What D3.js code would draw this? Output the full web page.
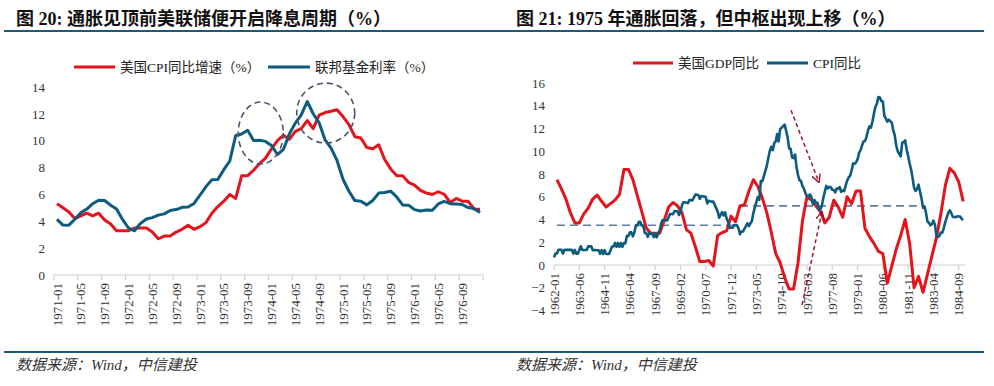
<!DOCTYPE html>
<html><head><meta charset="utf-8">
<script src="https://cdn.jsdelivr.net/npm/d3@7"></script>
<style>
body{margin:0;background:#fff;}
svg{display:block;}
</style></head>
<body>
<svg id="c" width="994" height="386"></svg>
<script>
// ---------- DATA ----------
// Left chart: monthly 1971-01 .. 1976-12
const leftStartYear = 1971;
const leftCpi = [
  5.3,5.0,4.7,4.2,4.4,4.6,4.4,4.6,4.1,3.8,3.3,3.3,
  3.3,3.5,3.5,3.5,3.2,2.7,2.9,2.9,3.2,3.4,3.7,3.4,
  3.6,3.9,4.6,5.1,5.5,6.0,5.7,7.4,7.4,7.8,8.3,8.7,
  9.4,10.0,10.4,10.1,10.7,10.9,11.5,10.9,11.9,12.1,12.2,12.3,
  11.8,11.2,10.3,10.2,9.5,9.4,9.7,8.6,7.9,7.4,7.4,6.9,
  6.7,6.3,6.1,6.0,6.2,6.0,5.4,5.7,5.5,5.5,4.9,4.9
];
const leftFed = [
  4.14,3.72,3.71,4.15,4.63,4.91,5.31,5.57,5.55,5.20,4.91,4.14,
  3.50,3.29,3.83,4.17,4.27,4.46,4.55,4.80,4.87,5.04,5.06,5.33,
  5.94,6.58,7.09,7.12,7.84,8.49,10.40,10.50,10.78,10.01,10.03,9.95,
  9.65,8.97,9.35,10.51,11.31,11.93,12.92,12.01,11.34,10.06,9.45,8.53,
  7.13,6.24,5.54,5.49,5.22,5.55,6.10,6.14,6.24,5.82,5.22,5.20,
  4.87,4.77,4.84,4.82,5.29,5.48,5.31,5.29,5.25,5.02,4.95,4.65
];
const leftTickLabels = ["1971-01","1971-05","1971-09","1972-01","1972-05","1972-09",
  "1973-01","1973-05","1973-09","1974-01","1974-05","1974-09",
  "1975-01","1975-05","1975-09","1976-01","1976-05","1976-09"];
const leftYTicks = [0,2,4,6,8,10,12,14];
const leftSeriesNames = ["美国CPI同比增速（%）","联邦基金利率（%）"];

// Right chart: monthly 1962-01 .. 1984-12
const rightStartYear = 1962;
const rightCpi = [
  0.67,1.01,1.01,1.34,1.34,1.34,1.00,1.34,1.33,1.33,1.33,1.33,
  1.33,1.00,1.33,0.99,0.99,1.32,1.65,1.32,1.32,1.32,1.32,1.64,
  1.64,1.64,1.31,1.31,1.31,1.30,1.30,0.98,1.30,0.97,1.30,0.97,
  0.97,0.97,1.29,1.62,1.62,1.94,1.61,1.94,1.61,1.93,1.61,1.92,
  1.92,2.56,2.56,2.87,2.87,2.53,2.85,3.48,3.48,3.79,3.79,3.46,
  3.46,2.81,2.80,2.48,2.79,2.78,2.77,2.45,2.75,2.44,2.74,3.04,
  3.65,3.95,3.94,3.93,3.92,4.20,4.49,4.48,4.46,4.75,4.73,4.72,
  4.40,4.68,5.25,5.52,5.51,5.48,5.44,5.71,5.70,5.67,5.93,6.20,
  6.18,6.15,5.82,6.06,6.04,6.01,5.98,5.41,5.65,5.60,5.57,5.57,
  5.29,5.00,4.71,4.16,4.40,4.64,4.36,4.62,4.08,3.80,3.28,3.27,
  3.27,3.51,3.50,3.49,3.23,2.71,2.95,2.94,3.19,3.42,3.67,3.41,
  3.65,3.87,4.59,5.06,5.53,5.98,5.73,7.38,7.36,7.80,8.25,8.71,
  9.39,10.02,10.39,10.09,10.71,10.86,11.51,10.86,11.95,12.06,12.20,12.34,
  11.80,11.23,10.25,10.21,9.47,9.39,9.72,8.60,7.91,7.44,7.38,6.94,
  6.72,6.29,6.07,6.05,6.20,5.97,5.35,5.71,5.49,5.46,4.88,4.86,
  5.22,5.91,6.44,6.95,6.73,6.87,6.83,6.62,6.60,6.39,6.72,6.70,
  6.84,6.43,6.55,6.50,6.97,7.41,7.70,7.84,8.31,8.93,8.89,9.02,
  9.28,9.86,10.09,10.49,10.85,10.89,11.26,11.82,12.18,12.07,12.61,13.29,
  13.91,14.18,14.76,14.73,14.41,14.38,13.13,12.87,12.60,12.77,12.65,12.52,
  11.83,11.41,10.49,10.00,9.78,9.55,10.76,10.80,10.95,10.14,9.59,8.92,
  8.39,7.62,6.78,6.51,6.68,7.06,6.44,5.85,5.04,5.15,4.59,3.83,
  3.71,3.49,3.60,3.90,3.55,2.58,2.46,2.56,2.86,2.85,3.27,3.79,
  4.19,4.60,4.80,4.56,4.23,4.22,4.20,4.29,4.27,4.26,4.05,3.95
];
// quarterly real GDP YoY, 1962Q1 .. 1984Q4 (plotted at quarter-end month)
const rightGdp = [
  7.5,6.7,5.8,4.6, 3.7,3.7,4.5,5.0, 5.8,6.15,5.6,5.1, 5.4,5.7,6.2,8.4,
  8.4,7.5,6.1,4.7, 3.25,2.8,2.8,2.8, 3.9,5.1,5.5,5.2, 4.6,3.1,2.8,1.6,
  0.3,0.3,0.4,-0.1, 2.6,2.85,3.0,4.3, 3.8,5.2,5.3,6.5, 7.5,6.9,5.9,4.6,
  2.9,1.0,0.2,-1.1, -2.1,-2.1,0.2,3.9, 6.0,5.7,5.2,4.7, 3.7,4.2,5.7,5.1,
  4.2,6.0,5.4,6.5, 6.5,3.2,2.5,1.9, 1.2,1.0,-1.6,-0.1, 1.4,2.6,4.0,1.9,
  -2.0,-1.0,-2.4,-0.8, 0.8,2.4,4.5,7.0, 8.5,8.1,7.3,5.6
];
const rightTickLabels = ["1962-01","1963-06","1964-11","1966-04","1967-09","1969-02",
  "1970-07","1971-12","1973-05","1974-10","1976-03","1977-08","1979-01","1980-06",
  "1981-11","1983-04","1984-09"];
const rightYTicks = [-4,-2,0,2,4,6,8,10,12,14,16];
const rightSeriesNames = ["美国GDP同比","CPI同比"];
// reference levels (value, start month index, end month index)
const rightLevels = [[3.5, 2, 122],[5.2, 125, 249]];

// ---------- STYLE ----------
const RED = "#e3141b", BLUE = "#0d5b7e", RULE = "#1d5a78";
const SERIF = "'Liberation Serif','Times New Roman','Noto Sans CJK SC',serif";
const svg = d3.select("#c");

// titles, rules, sources
const titles = [["图 20: 通胀见顶前美联储便开启降息周期（%）",16],["图 21: 1975 年通胀回落，但中枢出现上移（%）",516]];
titles.forEach(([t,x])=>{
  svg.append("text").attr("x",x).attr("y",25).attr("font-family",SERIF).attr("font-weight","bold")
    .attr("font-size",18).attr("fill","#111").text(t);
});
[[4,500],[500,984]].forEach(([a,b])=>{
  svg.append("line").attr("x1",a).attr("x2",b).attr("y1",31).attr("y2",31).attr("stroke",RULE).attr("stroke-width",2.2);
  svg.append("line").attr("x1",a).attr("x2",b).attr("y1",352).attr("y2",352).attr("stroke",RULE).attr("stroke-width",2.2);
});
[16,516].forEach(x=>{
  svg.append("text").attr("x",x).attr("y",370).attr("font-family",SERIF).attr("font-style","italic")
    .attr("font-size",15).attr("fill","#333").text("数据来源：Wind，中信建投");
});

function legendItem(g, x1, x2, y, color, label){
  g.append("line").attr("x1",x1).attr("x2",x2).attr("y1",y).attr("y2",y).attr("stroke",color).attr("stroke-width",3.2);
  g.append("text").attr("x",x2+5).attr("y",y).attr("dy","0.36em").attr("font-family",SERIF)
    .attr("font-size",13.5).attr("fill","#222").text(label);
}

// ---------- LEFT CHART ----------
{
  const g = svg.append("g");
  const n = leftCpi.length;
  const x = d3.scaleBand().domain(d3.range(n)).range([54,483]).padding(0);
  const y = d3.scaleLinear().domain([0,14]).range([275,87]);
  const cx = i => x(i) + x.bandwidth()/2;

  g.append("g").attr("transform","translate(54,0)")
    .call(d3.axisLeft(y).tickValues(leftYTicks).tickSize(0).tickPadding(9))
    .call(s=>s.select(".domain").remove())
    .call(s=>s.selectAll("text").attr("font-family",SERIF).attr("font-size",13).attr("fill","#333"));

  g.append("line").attr("x1",54).attr("x2",483).attr("y1",275).attr("y2",275).attr("stroke","#d0d0d0").attr("stroke-width",1.2);
  const tickIdx = d3.range(0, n+1, 4);
  g.selectAll(".lt").data(tickIdx).join("line")
    .attr("x1",i=> i<n ? x(i) : x(n-1)+x.bandwidth()).attr("x2",i=> i<n ? x(i) : x(n-1)+x.bandwidth())
    .attr("y1",275).attr("y2",280).attr("stroke","#d0d0d0").attr("stroke-width",1.2);
  g.selectAll(".ll").data(leftTickLabels).join("text")
    .attr("transform",(d,k)=>`translate(${cx(k*4)},283) rotate(-90)`)
    .attr("text-anchor","end").attr("dy","0.35em")
    .attr("font-family",SERIF).attr("font-size",13).attr("fill","#333").text(d=>d);

  const line = d3.line().x((d,i)=>cx(i)).y(d=>y(d));
  g.append("path").datum(leftCpi).attr("d",line).attr("fill","none").attr("stroke",RED).attr("stroke-width",3).attr("stroke-linejoin","round");
  g.append("path").datum(leftFed).attr("d",line).attr("fill","none").attr("stroke",BLUE).attr("stroke-width",3).attr("stroke-linejoin","round");

  [[34.2,10.57,22.5,31],[45.1,12.06,29,30]].forEach(([i,v,rx,ry])=>{
    g.append("ellipse").attr("cx",x(0)+ (i+0.5)*x.bandwidth()).attr("cy",y(v)).attr("rx",rx).attr("ry",ry)
      .attr("fill","none").attr("stroke","#46566e").attr("stroke-width",1.6).attr("stroke-dasharray","6,4");
  });

  legendItem(g,74,115,67,RED,leftSeriesNames[0]);
  legendItem(g,268,310,67,BLUE,leftSeriesNames[1]);
}

// ---------- RIGHT CHART ----------
{
  const g = svg.append("g");
  const n = rightCpi.length;
  const x = d3.scaleLinear().domain([0, n-1]).range([554, 554 + (n-1)*1.488]);
  const y = d3.scaleLinear().domain([-4,16]).range([310.5,83]);

  g.append("g").attr("transform","translate(554,0)")
    .call(d3.axisLeft(y).tickValues(rightYTicks).tickSize(0).tickPadding(9))
    .call(s=>s.select(".domain").remove())
    .call(s=>s.selectAll("text").attr("font-family",SERIF).attr("font-size",13).attr("fill","#333"));

  const y0 = y(0);
  g.append("line").attr("x1",x(0)).attr("x2",x(n-1)+2).attr("y1",y0).attr("y2",y0).attr("stroke","#d0d0d0").attr("stroke-width",1.2);
  const tickIdx = rightTickLabels.map((d,k)=>k*17);
  g.selectAll(".rt").data(tickIdx).join("line")
    .attr("x1",i=>x(i)).attr("x2",i=>x(i)).attr("y1",y0).attr("y2",y0+5).attr("stroke","#d0d0d0").attr("stroke-width",1.2);
  g.selectAll(".rl").data(rightTickLabels).join("text")
    .attr("transform",(d,k)=>`translate(${x(k*17)},${y0+8}) rotate(-90)`)
    .attr("text-anchor","end").attr("dy","0.35em")
    .attr("font-family",SERIF).attr("font-size",13).attr("fill","#333").text(d=>d);

  rightLevels.forEach(([v,a,b])=>{
    g.append("line").attr("x1",x(a)).attr("x2",x(b)).attr("y1",y(v)).attr("y2",y(v))
      .attr("stroke","#5a7ea4").attr("stroke-width",1.6).attr("stroke-dasharray","8,5");
  });

  const gdpPts = rightGdp.map((v,k)=>[2+3*k, v]);
  g.append("path").datum(gdpPts).attr("d",d3.line().x(d=>x(d[0])).y(d=>y(d[1])))
    .attr("fill","none").attr("stroke",RED).attr("stroke-width",3).attr("stroke-linejoin","round");
  g.append("path").datum(rightCpi).attr("d",d3.line().x((d,i)=>x(i)).y(d=>y(d)))
    .attr("fill","none").attr("stroke",BLUE).attr("stroke-width",2.6).attr("stroke-linejoin","round");

  const AR = "#a01030";
  svg.append("defs").append("marker").attr("id","ah").attr("viewBox","0 0 10 10")
    .attr("refX",9).attr("refY",5).attr("markerWidth",9).attr("markerHeight",9).attr("orient","auto")
    .attr("markerUnits","userSpaceOnUse")
    .append("path").attr("d","M0,0 L10,5 L0,10").attr("fill","none").attr("stroke",AR).attr("stroke-width",1.5);
  [[159.3,13.6,178,7.3],[166.7,-3.5,180,4.65]].forEach(([a,va,b,vb])=>{
    g.append("line").attr("x1",x(a)).attr("y1",y(va)).attr("x2",x(b)).attr("y2",y(vb))
      .attr("stroke",AR).attr("stroke-width",1.5).attr("stroke-dasharray","4,3").attr("marker-end","url(#ah)");
  });

  legendItem(g,633,673,63,RED,rightSeriesNames[0]);
  legendItem(g,767,808,63,BLUE,rightSeriesNames[1]);
}
</script>
</body></html>
